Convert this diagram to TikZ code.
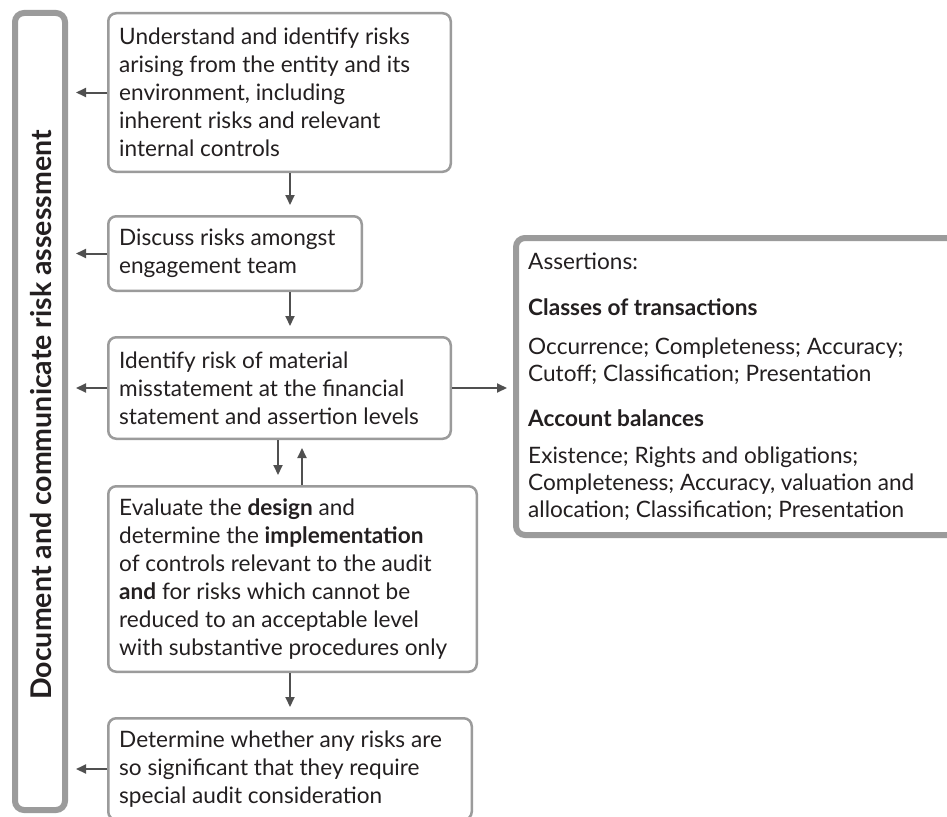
\documentclass[tikz,border=0pt]{standalone}
\usepackage{fontspec}
\setmainfont{Lato}
\usetikzlibrary{arrows.meta,calc}
\definecolor{frame}{HTML}{9B9B9B}
\definecolor{arrowgray}{HTML}{505050}
\definecolor{ink}{HTML}{231F20}

\begin{document}
\begin{tikzpicture}[x=1pt,y=-1pt,
  stepbox/.style={draw=frame, line width=2.5pt, rounded corners=8pt, fill=white, inner sep=0pt},
  heavybox/.style={draw=frame, line width=6pt, rounded corners=9pt, fill=white, inner sep=0pt},
  txt/.style={text=ink, align=left, inner sep=0pt, font=\fontsize{22.6}{28}\selectfont},
  listtxt/.style={text=ink, align=left, inner sep=0pt, font=\fontsize{22.6}{27}\selectfont},
  sidetxt/.style={text=ink, inner sep=0pt, font=\fontsize{28.5}{30}\selectfont\bfseries},
  arr/.style={draw=arrowgray, line width=2pt, -{Triangle[length=10pt,width=9pt]}},
]
\useasboundingbox (0,0) rectangle (947,816);

% documentation bar on the left
\node[heavybox, minimum width=50, minimum height=797] (bar) at (40,411.5) {};
\node[sidetxt, rotate=90] (bartxt) at (41,415) {Document and communicate risk assessment};

% process steps
\node[stepbox, minimum width=342.5, minimum height=158.5] (b1) at (279.5,92.5) {};
\node[txt, anchor=west] (b1t) at ([xshift=12pt]b1.west) {Understand and identify risks\\arising from the entity and its\\environment, including\\inherent risks and relevant\\internal controls};

\node[stepbox, minimum width=253.5, minimum height=74.5] (b2) at (235,253.5) {};
\node[txt, anchor=west] (b2t) at ([xshift=12pt]b2.west) {Discuss risks amongst\\engagement team};

\node[stepbox, minimum width=342.5, minimum height=101.5] (b3) at (279.5,388) {};
\node[txt, anchor=west] (b3t) at ([xshift=12pt]b3.west) {Identify risk of material\\misstatement at the financial\\statement and assertion levels};

\node[stepbox, minimum width=368.5, minimum height=185.5] (b4) at (292.5,579) {};
\node[txt, anchor=west] (b4t) at ([xshift=12pt]b4.west) {Evaluate the \textbf{design} and\\determine the \textbf{implementation}\\of controls relevant to the audit\\\textbf{and} for risks which cannot be\\reduced to an acceptable level\\with substantive procedures only};

\node[stepbox, minimum width=363.5, minimum height=101.5] (b5) at (290,769) {};
\node[txt, anchor=west] (b5t) at ([xshift=12pt]b5.west) {Determine whether any risks are\\so significant that they require\\special audit consideration};

% assertions panel
\node[heavybox, minimum width=456, minimum height=297] (ra) at (744,386.5) {};
\node[listtxt, anchor=north west] (rat) at (528,253) {Assertions:\\[19pt]
\textbf{Classes of transactions}\\[12pt]
Occurrence; Completeness; Accuracy;\\
Cutoff; Classification; Presentation\\[18pt]
\textbf{Account balances}\\[10pt]
Existence; Rights and obligations;\\
Completeness; Accuracy, valuation and\\
allocation; Classification; Presentation};

% connectors
\coordinate (mid) at (290,0);
\coordinate (down) at (278,0);
\coordinate (up) at (302,0);

\draw[arr, shorten >=8pt] (b1.west) -- (b1.west -| bar.east);
\draw[arr, shorten >=8pt] (b2.west) -- (b2.west -| bar.east);
\draw[arr, shorten >=8pt] (b3.west) -- (b3.west -| bar.east);
\draw[arr, shorten >=8pt] (b5.west) -- (b5.west -| bar.east);

\draw[arr, shorten >=10pt] (b1.south -| mid) -- (b2.north -| mid);
\draw[arr, shorten >=10pt] (b2.south -| mid) -- (b3.north -| mid);
\draw[arr, shorten >=10pt] (b3.south -| down) -- (b4.north -| down);
\draw[arr, shorten >=8pt] (b4.north -| up) -- (b3.south -| up);
\draw[arr, shorten >=10pt] (b4.south -| mid) -- (b5.north -| mid);

\draw[arr, shorten >=6pt] (b3.east) -- (b3.east -| ra.west);
\end{tikzpicture}
\end{document}
